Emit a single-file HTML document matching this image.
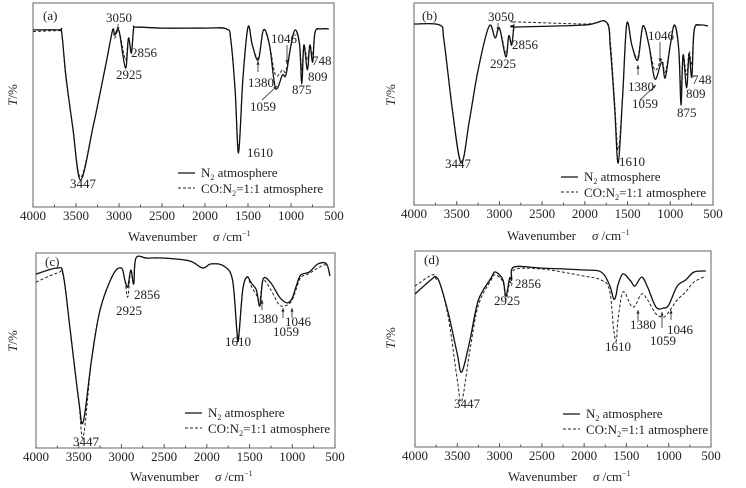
<!DOCTYPE html>
<html><head><meta charset="utf-8"><style>
html,body{margin:0;padding:0;background:#fff;}
svg{display:block;font-family:"Liberation Serif",serif;}
text{fill:#222;}
</style></head><body>
<svg id="fig" width="746" height="488" viewBox="0 0 746 488" xmlns="http://www.w3.org/2000/svg"></svg>
<script>
const xTicks = [4000,3500,3000,2500,2000,1500,1000,500];
const xTickLabels = ["4000","3500","3000","2500","2000","1500","1000","500"];
// panel a
const aWn = [4000,3700,3666,3616,3538,3447,3302,3220,3143,3073,3050,3000,2925,2890,2856,2830,2800,2500,2000,1750,1700,1650,1610,1560,1500,1450,1380,1320,1250,1180,1100,1059,1000,950,900,875,850,809,780,748,720,650,560];
const aSolid = [86.8,86.8,85.5,63.7,39.2,13.2,39.2,55.9,72.0,86.8,84.3,86.3,68.1,82.8,75.5,87.3,88.2,87.7,87.7,87.3,81.9,57.4,26.5,62.3,88.2,79.4,72.1,86.8,79.4,58.3,64.7,64.7,79.4,86.8,79.4,60.3,79.4,67.2,79.4,71.1,85.8,87.3,87.3];
const aDash = [86.0,86.4,85.0,63.0,39.2,14.5,39.2,55.9,72.0,86.8,82.8,86.3,72.1,82.8,75.5,87.7,88.2,87.7,87.7,87.3,81.9,57.4,28.0,62.3,88.2,79.4,73.0,86.8,79.4,64.7,67.2,66.7,79.4,86.8,79.4,67.2,79.4,72.1,79.4,74.5,85.8,87.3,87.3];
// panel b
const bWn = [4000,3700,3650,3550,3447,3350,3250,3120,3050,3000,2925,2890,2856,2830,2800,2000,1750,1700,1650,1610,1560,1510,1450,1380,1320,1250,1180,1100,1059,1000,950,900,875,850,809,780,748,720,650,560];
const bSolid = [89.6,89.1,81.7,47.0,20.8,42.1,66.8,88.6,82.7,87.6,73.3,83.7,79.2,88.1,88.1,89.1,90.6,76.7,47.0,20.8,52.0,89.6,79.2,71.8,88.6,79.2,62.4,70.8,62.9,79.2,89.1,76.7,49.5,74.3,57.9,74.3,63.4,86.6,89.1,88.6];
const bDash = [89.6,89.1,81.7,47.0,21.5,42.1,66.8,88.6,82.7,87.6,75.0,83.7,79.2,89.6,90.6,89.6,90.6,80.0,50.0,27.2,52.0,89.6,79.2,73.0,88.6,79.2,66.8,72.0,65.8,79.2,89.1,76.7,56.9,74.3,64.4,76.0,69.3,86.6,89.1,88.6];
// panel c
const cWn = [4000,3750,3680,3600,3500,3447,3350,3250,3100,3000,2960,2925,2890,2856,2830,2700,2500,2200,2050,1950,1800,1700,1650,1630,1580,1530,1480,1420,1380,1340,1250,1150,1059,1000,950,900,800,700,600,560];
const cSolid = [89.2,92.3,88.7,60.5,24.6,13.3,45.1,70.8,88.7,92.3,86.2,82.6,91.3,84.1,97.4,97.4,97.4,95.9,92.3,94.4,93.3,86.2,60.5,55.9,81.0,87.7,84.6,81.0,72.8,86.7,84.6,77.4,74.4,76.9,83.6,88.7,90.3,94.4,94.4,88.2];
const cDash = [85.1,89.7,88.0,60.5,24.0,5.6,45.1,70.8,88.7,92.3,86.2,77.4,91.3,84.1,97.4,97.4,97.4,95.9,92.3,94.4,93.3,86.2,60.5,56.5,81.0,87.7,83.0,78.5,75.9,86.0,81.0,73.3,73.3,76.0,82.0,87.5,89.5,92.3,93.8,88.7];
// panel d
const dWn = [4000,3800,3750,3700,3600,3500,3447,3350,3250,3100,3050,2960,2925,2880,2856,2830,2500,2000,1800,1700,1650,1620,1600,1540,1450,1400,1320,1250,1150,1059,1000,900,800,700,560];
const dSolid = [78.1,85.7,86.7,82.7,67.3,47.4,38.3,54.6,75.0,86.2,89.3,85.2,77.0,86.2,85.2,91.8,91.3,90.3,89.3,82.7,75.5,78.0,82.7,88.3,84.7,82.1,86.7,81.6,71.4,70.9,72.4,82.1,85.2,89.3,89.8];
const dDash = [82.1,87.8,85.7,82.7,64.8,34.2,23.5,49.5,72.4,85.2,87.8,84.2,75.0,84.2,82.7,90.3,90.8,87.2,85.2,80.1,59.7,54.1,64.8,79.1,72.4,71.9,78.1,75.0,67.9,66.3,68.9,75.0,79.1,84.2,87.2];

const NS="http://www.w3.org/2000/svg";
const svg=document.getElementById('fig');
function mk(tag,attrs,parent){const e=document.createElementNS(NS,tag);for(const k in attrs)e.setAttribute(k,attrs[k]);(parent||svg).appendChild(e);return e;}

const panels=[
 {id:'a',L:33,R:334,T:3,B:207,wn:aWn,s:aSolid,d:aDash,yl:[17,95],wl:[128,241],lab:[43,20],
  leg:[178,173],
  notes:[["3050",119,22,"middle"],["2925",129,79,"middle"],["2856",131,57,"start"],["3447",83,188,"middle"],["1610",247,157,"start"],["1380",248,87,"start"],["1059",250,111,"start"],["1046",271,43,"start"],["875",292,94,"start"],["809",308,81,"start"],["748",312,65,"start"]],
  arrows:[[118,24,118,31],[258,72,258,61],[262,100,277,86],[287,45,287,64]]},
 {id:'b',L:414,R:713,T:3,B:205,wn:bWn,s:bSolid,d:bDash,yl:[395,95],wl:[507,240],lab:[422,20],
  leg:[561,177],
  notes:[["3050",501,21,"middle"],["2925",503,68,"middle"],["2856",512,49,"start"],["3447",458,168,"middle"],["1610",619,166,"start"],["1380",628,91,"start"],["1059",632,108,"start"],["1046",648,40,"start"],["875",677,117,"start"],["809",686,98,"start"],["748",692,84,"start"]],
  arrows:[[498,23,498,31],[638,75,638,65],[640,100,656,85],[660,42,660,62]]},
 {id:'c',L:36,R:335,T:253,B:448,wn:cWn,s:cSolid,d:cDash,yl:[17,341],wl:[130,481],lab:[45,266],
  leg:[185,413],
  notes:[["2925",129,315,"middle"],["2856",134,299,"start"],["3447",86,446,"middle"],["1610",238,346,"middle"],["1380",252,323,"start"],["1059",273,336,"start"],["1046",285,326,"start"]],
  arrows:[[262,310,262,300],[283,318,283,308],[292,318,292,308]]},
 {id:'d',L:415,R:711,T:251,B:447,wn:dWn,s:dSolid,d:dDash,yl:[395,338],wl:[508,481],lab:[424,264],
  leg:[563,414],
  notes:[["2925",507,305,"middle"],["2856",515,288,"start"],["3447",467,408,"middle"],["1610",618,351,"middle"],["1380",630,329,"start"],["1059",650,345,"start"],["1046",667,334,"start"]],
  arrows:[[638,320,638,310],[662,328,662,312],[671,320,671,310]]}
];

function smoothPath(pts){
  let d=`M${pts[0][0].toFixed(1)},${pts[0][1].toFixed(1)}`;
  for(let i=0;i<pts.length-1;i++){
    const p0=pts[Math.max(0,i-1)],p1=pts[i],p2=pts[i+1],p3=pts[Math.min(pts.length-1,i+2)];
    const c1x=p1[0]+(p2[0]-p0[0])/6,c1y=p1[1]+(p2[1]-p0[1])/6;
    const c2x=p2[0]-(p3[0]-p1[0])/6,c2y=p2[1]-(p3[1]-p1[1])/6;
    d+=` C${c1x.toFixed(1)},${c1y.toFixed(1)} ${c2x.toFixed(1)},${c2y.toFixed(1)} ${p2[0].toFixed(1)},${p2[1].toFixed(1)}`;
  }
  return d;
}

panels.forEach(p=>{
  const g=mk('g',{});
  
  
  const xs=w=>p.L+(4000-w)/3500*(p.R-p.L);
  const ys=t=>p.B-t/100*(p.B-p.T);
  const box=mk('rect',{x:p.L,y:p.T,width:p.R-p.L,height:p.B-p.T,fill:'none',stroke:'#666','stroke-width':1},g);
  
  
  xTicks.forEach((t,i)=>{
    const x=xs(t);
    const tk=mk('line',{x1:x,x2:x,y1:p.B,y2:p.B-4,stroke:'#555'},g);
    
    
    if(i<xTicks.length-1){const xm=xs(t-250);mk('line',{x1:xm,x2:xm,y1:p.B,y2:p.B-2.5,stroke:'#555'},g);}
    const tl=mk('text',{x:x,y:p.B+13,'font-size':13,'text-anchor':'middle'},g);
    tl.textContent=xTickLabels[i];
    
    
  });
  const xt=mk('text',{x:p.wl[0],y:p.wl[1],'font-size':13},g);
  xt.innerHTML='Wavenumber<tspan dx="16" font-style="italic">σ</tspan><tspan> /cm</tspan><tspan font-size="8" dy="-5">−1</tspan>';
  
  
  const yt=mk('text',{x:p.yl[0],y:p.yl[1],'font-size':13,'text-anchor':'middle',transform:`rotate(-90 ${p.yl[0]} ${p.yl[1]})`},g);
  yt.innerHTML='<tspan font-style="italic">T</tspan>/%';
  
  
  const pl=mk('text',{x:p.lab[0],y:p.lab[1],'font-size':13},g);
  pl.textContent='('+p.id+')';
  
  
  const dash=mk('path',{d:smoothPath(p.wn.map((w,i)=>[xs(w),ys(p.d[i])])),fill:'none',stroke:'#222','stroke-width':1,'stroke-dasharray':'3,2'},g);
  
  
  const sol=mk('path',{d:smoothPath(p.wn.map((w,i)=>[xs(w),ys(p.s[i])])),fill:'none',stroke:'#111','stroke-width':1.3},g);
  
  
  p.notes.forEach(n=>{
    const t=mk('text',{x:n[1],y:n[2],'font-size':13,'text-anchor':n[3]},g);
    t.textContent=n[0];
    
    
  });
  p.arrows.forEach(a=>{
    const l=mk('line',{x1:a[0],y1:a[1],x2:a[2],y2:a[3],stroke:'#222','stroke-width':0.8},g);
    
    
    const ang=Math.atan2(a[3]-a[1],a[2]-a[0]);
    const hx=a[2],hy=a[3],s=4;
    mk('path',{d:`M${hx},${hy} L${hx-s*Math.cos(ang-0.4)},${hy-s*Math.sin(ang-0.4)} L${hx-s*Math.cos(ang+0.4)},${hy-s*Math.sin(ang+0.4)} Z`,fill:'#222'},g);
  });
  const lg=mk('g',{},g);
  
  
  const [lx,ly]=p.leg;
  mk('line',{x1:lx,x2:lx+17,y1:ly,y2:ly,stroke:'#111','stroke-width':1.3},lg);
  const t1=mk('text',{x:lx+23,y:ly+4,'font-size':13},lg);
  t1.innerHTML='N<tspan font-size="8" dy="3">2</tspan><tspan dy="-3"> atmosphere</tspan>';
  
  
  mk('line',{x1:lx,x2:lx+17,y1:ly+15,y2:ly+15,stroke:'#222','stroke-width':1,'stroke-dasharray':'3,2'},lg);
  const t2=mk('text',{x:lx+23,y:ly+20,'font-size':13},lg);
  t2.innerHTML='CO:N<tspan font-size="8" dy="3">2</tspan><tspan dy="-3">=1:1 atmosphere</tspan>';
  
  
});
</script>
</body></html>
